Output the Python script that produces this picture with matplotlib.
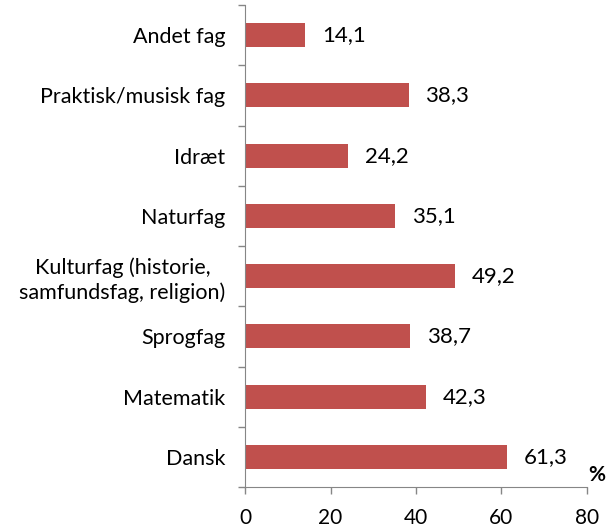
import matplotlib
matplotlib.use("Agg")
import matplotlib.pyplot as plt
import numpy as np

categories = ["Dansk", "Matematik", "Sprogfag", "Kulturfag (historie,\nsamfundsfag, religion)",
              "Naturfag", "Idræt", "Praktisk/musisk fag", "Andet fag"]
values = [61.3, 42.3, 38.7, 49.2, 35.1, 24.2, 38.3, 14.1]
value_labels = ["61,3", "42,3", "38,7", "49,2", "35,1", "24,2", "38,3", "14,1"]
xticks = [0, 20, 40, 60, 80]

plt.rcParams['font.family'] = ['Lato', 'DejaVu Sans']

fig = plt.figure(figsize=(6.06, 5.29), dpi=100)
ax = fig.add_axes([245/606, 1-487/529, (587-245)/606, (487-5)/529])

y = np.arange(len(categories))
ax.barh(y, values, height=0.4, color="#C0504D")
for yi, v, lab in zip(y, values, value_labels):
    ax.annotate(lab, (v, yi), xytext=(12, 0), textcoords="offset points",
                ha="left", va="center", fontsize=16, color="black")

ax.set_xlim(0, 80)
ax.set_ylim(-0.5, len(categories) - 0.5)
ax.set_xticks(xticks)
ax.set_xticklabels([str(t) for t in xticks], fontsize=15)
ax.set_yticks(y)
ax.set_yticklabels(categories, fontsize=15.5, linespacing=1.25, multialignment="center")
ax.set_yticks(np.arange(-0.5, len(categories), 1.0), minor=True)
ax.tick_params(axis="y", which="major", length=0, pad=14)
ax.tick_params(axis="y", which="minor", length=5, color="#868686", width=1)
ax.tick_params(axis="x", length=5, color="#868686", width=1, pad=10)
for s in ["top", "right"]:
    ax.spines[s].set_visible(False)
for s in ["left", "bottom"]:
    ax.spines[s].set_color("#868686")

fig.text(597/606, 1-475/529, "%", fontsize=15, fontweight="bold", ha="center", va="center")

fig.savefig("out.png", dpi=100)
